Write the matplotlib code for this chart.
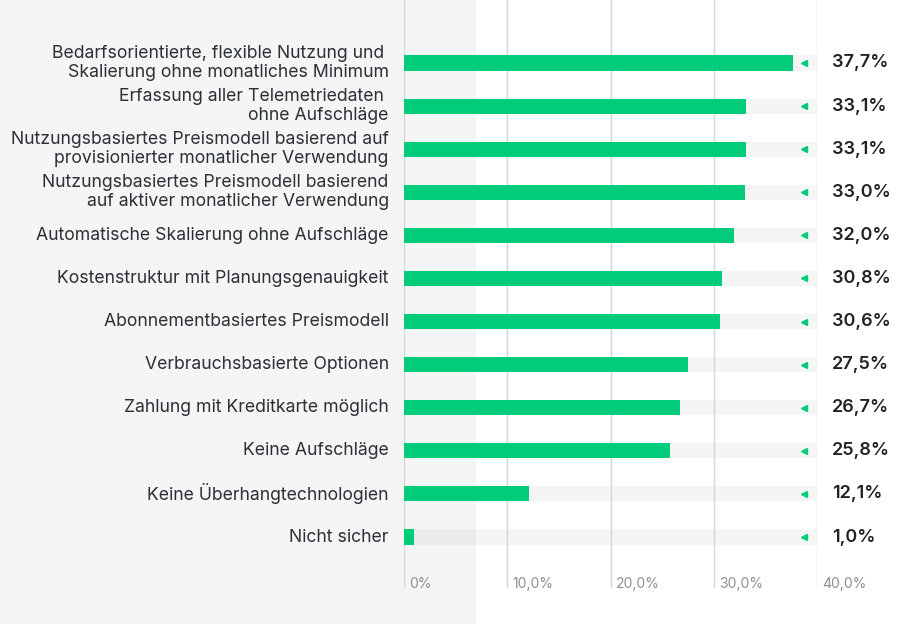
import matplotlib.pyplot as plt
from matplotlib.patches import Rectangle
from matplotlib.transforms import blended_transform_factory

# Data
labels = [
    "Bedarfsorientierte, flexible Nutzung und \nSkalierung ohne monatliches Minimum",
    "Erfassung aller Telemetriedaten \nohne Aufschläge",
    "Nutzungsbasiertes Preismodell basierend auf\nprovisionierter monatlicher Verwendung",
    "Nutzungsbasiertes Preismodell basierend\nauf aktiver monatlicher Verwendung",
    "Automatische Skalierung ohne Aufschläge",
    "Kostenstruktur mit Planungsgenauigkeit",
    "Abonnementbasiertes Preismodell",
    "Verbrauchsbasierte Optionen",
    "Zahlung mit Kreditkarte möglich",
    "Keine Aufschläge",
    "Keine Überhangtechnologien",
    "Nicht sicher",
]
values = [37.7, 33.1, 33.1, 33.0, 32.0, 30.8, 30.6, 27.5, 26.7, 25.8, 12.1, 1.0]
value_labels = ["37,7%", "33,1%", "33,1%", "33,0%", "32,0%", "30,8%",
                "30,6%", "27,5%", "26,7%", "25,8%", "12,1%", "1,0%"]
ticks = [0, 10, 20, 30, 40]
tick_labels = ["0%", "10,0%", "20,0%", "30,0%", "40,0%"]
axis_max = 40

plt.rcParams['font.family'] = ['Inter', 'DejaVu Sans']

fig = plt.figure(figsize=(9, 6.24), dpi=100)
fig.patches.append(Rectangle((0, 0), 476 / 900, 1, transform=fig.transFigure,
                             facecolor='#f5f5f5', edgecolor='none', zorder=-10))

ax = fig.add_axes([404 / 900, 1 - 588 / 624, 413 / 900, 588 / 624])
ax.patch.set_alpha(0)

green = '#02cc7a'
pos = list(range(len(values)))

# background tracks
ax.barh(pos, [axis_max] * len(values), height=0.35, color='black', alpha=0.04,
        zorder=1)
ax.barh(pos, values, height=0.35, color=green, zorder=3)
ax.plot([38.7] * len(values), pos, marker='<', linestyle='none', color=green,
        markersize=4.5, zorder=4)

for t in ticks:
    ax.axvline(t, color='#d6d6d6', linewidth=1, zorder=2)

ax.set_xlim(0, axis_max)
ax.set_ylim(11 + 51 / 43.1, -63 / 43.1)
ax.set_xticks([])
ax.set_yticks([])
for s in ax.spines.values():
    s.set_visible(False)

for p, lab in zip(pos, labels):
    ax.annotate(lab, xy=(0, p), xytext=(-11, 0), textcoords='offset points',
                ha='right', va='center', fontsize=12.7, color='#2b2f36',
                linespacing=1.15, multialignment='right', annotation_clip=False)

for p, vl in zip(pos, value_labels):
    ax.annotate(vl, xy=(axis_max, p), xytext=(11, 0), textcoords='offset points',
                ha='left', va='center', fontsize=13, color='#222222',
                fontweight='semibold', annotation_clip=False)

trans = blended_transform_factory(ax.transData, ax.transAxes)
for t, tl in zip(ticks, tick_labels):
    ax.text(t + 0.5, 1 - 584 / 588, tl, transform=trans, ha='left',
            va='center', fontsize=10, color='#8f8f8f')

fig.savefig('out.png', dpi=100)
